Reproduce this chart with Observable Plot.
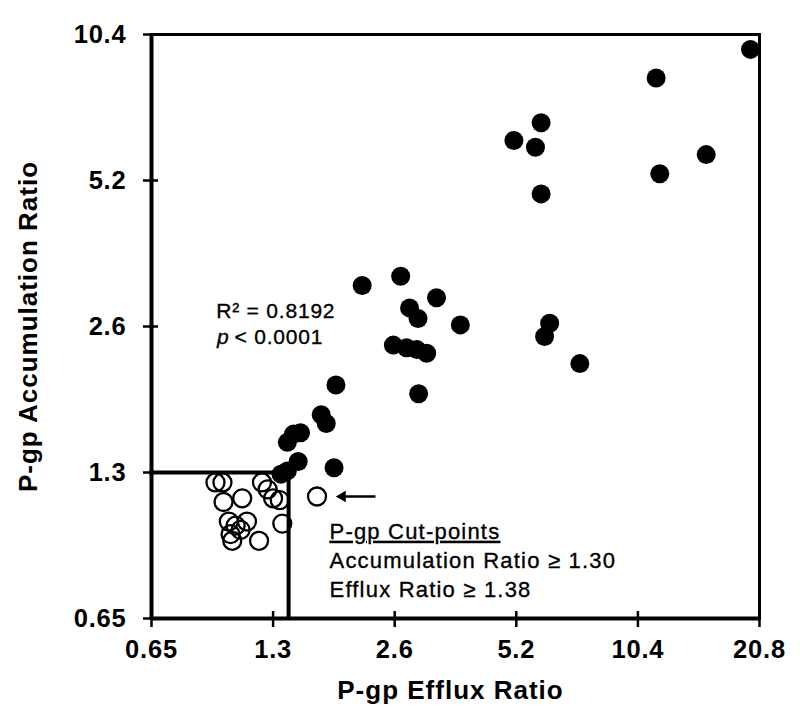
<!DOCTYPE html>
<html>
<head>
<meta charset="utf-8">
<script src="https://cdn.jsdelivr.net/npm/d3@7"></script>
<script src="https://cdn.jsdelivr.net/npm/@observablehq/plot@0.6"></script>
<style>
  html, body { margin: 0; padding: 0; background: #fff; }
  #chart svg { display: block; }
</style>
</head>
<body>
<div id="chart"></div>
<script>
// Axis ticks
const xTickValues = [0.65, 1.3, 2.6, 5.2, 10.4, 20.8];
const xTickLabels = ["0.65", "1.3", "2.6", "5.2", "10.4", "20.8"];
const yTickValues = [0.65, 1.3, 2.6, 5.2, 10.4];
const yTickLabels = ["0.65", "1.3", "2.6", "5.2", "10.4"];

// P-gp substrates (filled circles)
const substrateEfflux = [19.76, 11.54, 15.35, 11.78, 5.99, 5.13, 5.80, 5.99, 6.29, 6.11, 7.47,
  2.16, 2.69, 3.30, 2.83, 2.97, 3.78, 2.58, 2.78, 2.95, 3.12, 1.86, 2.98, 1.71, 1.76, 1.84,
  1.52, 1.46, 1.41, 1.50, 1.41, 1.36];
const substrateAccum = [9.69, 8.46, 5.88, 5.37, 6.84, 6.29, 6.09, 4.88, 2.64, 2.48, 2.18,
  3.16, 3.30, 2.98, 2.84, 2.70, 2.62, 2.38, 2.35, 2.33, 2.29, 1.97, 1.89, 1.71, 1.64, 1.33,
  1.57, 1.56, 1.50, 1.37, 1.31, 1.29];

// Non-substrates (open circles)
const nonSubstrateEfflux = [0.936, 0.974, 0.98, 1.09, 1.22, 1.26, 1.30, 1.35, 1.37, 1.01, 1.05,
  1.12, 1.08, 1.02, 1.03, 1.20, 1.67];
const nonSubstrateAccum = [1.24, 1.24, 1.13, 1.15, 1.24, 1.20, 1.15, 1.14, 1.02, 1.03, 1.01,
  1.03, 0.99, 0.97, 0.94, 0.94, 1.16];

// Cut-point box (as drawn)
const cutAccumulation = 1.30;
const cutEffluxLine = 1.42;

// Annotation texts
const statText = ["R² = 0.8192", "p", "< 0.0001"];
const cutTexts = ["P-gp Cut-points", "Accumulation Ratio ≥ 1.30", "Efflux Ratio ≥ 1.38"];
const axisTitles = ["P-gp Efflux Ratio", "P-gp Accumulation Ratio"];

// Arrow pointing at the flagged open circle (last non-substrate)
const arrowStartX = 2.33;
const arrowTipX = 1.93;

const filled = substrateEfflux.map((x, i) => ({x, y: substrateAccum[i]}));
const open = nonSubstrateEfflux.map((x, i) => ({x, y: nonSubstrateAccum[i]}));
const flagged = open[open.length - 1];

const x0 = xTickValues[0], y0 = yTickValues[0];
const noteStyle = {fill: "#000", stroke: "#000", strokeWidth: 0.35};

const chart = Plot.plot({
  width: 800,
  height: 723,
  marginLeft: 151,
  marginRight: 41,
  marginTop: 34,
  marginBottom: 105,
  x: {type: "log", base: 2, domain: [x0, xTickValues[xTickValues.length - 1]], axis: null},
  y: {type: "log", base: 2, domain: [y0, yTickValues[yTickValues.length - 1]], axis: null},
  style: {fontFamily: "'Liberation Sans', Arial, sans-serif", color: "#000", background: "#fff"},
  marks: [
    Plot.axisX(xTickValues, {
      tickSize: 0, tickPadding: 21, label: null,
      tickFormat: d => xTickLabels[xTickValues.indexOf(d)],
      fontSize: 25.5, fontWeight: "bold"
    }),
    Plot.axisY(yTickValues, {
      tickSize: 0, tickPadding: 25, label: null,
      tickFormat: d => yTickLabels[yTickValues.indexOf(d)],
      fontSize: 25.5, fontWeight: "bold"
    }),
    Plot.frame({stroke: "#000", strokeWidth: 3}),
    Plot.ruleX([x0], {stroke: "#000", strokeWidth: 4}),
    Plot.ruleY([y0], {stroke: "#000", strokeWidth: 4}),
    Plot.ruleX(xTickValues, {y1: y0, y2: y0, insetTop: -7, insetBottom: -9, stroke: "#000", strokeWidth: 2.5}),
    Plot.ruleY(yTickValues, {x1: x0, x2: x0, insetLeft: -8, insetRight: -7, stroke: "#000", strokeWidth: 2.5}),
    Plot.dot(open, {x: "x", y: "y", r: 9, stroke: "#000", strokeWidth: 2.3, fill: "none"}),
    Plot.ruleY([cutAccumulation], {x1: x0, x2: cutEffluxLine, stroke: "#000", strokeWidth: 4, strokeLinecap: "square"}),
    Plot.ruleX([cutEffluxLine], {y1: y0, y2: cutAccumulation, stroke: "#000", strokeWidth: 4, strokeLinecap: "square"}),
    Plot.dot(filled, {x: "x", y: "y", r: 9.5, fill: "#000"}),
    // arrow
    Plot.link([flagged], {x1: arrowStartX, x2: arrowTipX, y1: "y", y2: "y", stroke: "#000", strokeWidth: 2.5}),
    Plot.dot([flagged], {x: arrowTipX, y: "y", symbol: "triangle", rotate: -90, r: 4.3, fill: "#000", stroke: "none"}),
    // stats
    Plot.text([statText[0]], {x: 1.32, y: 2.80, text: d => d, fontSize: 21, ...noteStyle}),
    Plot.text([statText[1]], {x: 1.014, y: 2.47, text: d => d, fontSize: 21, fontStyle: "italic", textAnchor: "end", ...noteStyle}),
    Plot.text([statText[2]], {x: 1.043, y: 2.47, text: d => d, fontSize: 21, textAnchor: "start", ...noteStyle}),
    // cut-point notes
    Plot.text(cutTexts, {x: 1.793, y: [0.981, 0.855, 0.745], text: d => d, fontSize: 22, textAnchor: "start", ...noteStyle}),
    // axis titles
    Plot.text([axisTitles[0]], {frameAnchor: "bottom", dy: 80, dx: -5, text: d => d, fontSize: 26, fontWeight: "bold", fill: "#000"}),
    Plot.text([axisTitles[1]], {frameAnchor: "left", textAnchor: "middle", dx: -123, rotate: -90, text: d => d, fontSize: 26, fontWeight: "bold", fill: "#000"})
  ]
});

// Typographic touches: letter spacing and underline
const svg = d3.select(chart);
svg.selectAll("text").each(function () {
  const t = this.textContent;
  const el = d3.select(this);
  if (cutTexts.includes(t)) {
    el.style("letter-spacing", "1.2px");
    if (t === cutTexts[0]) el.style("text-decoration", "underline");
  } else if (axisTitles.includes(t)) {
    el.style("letter-spacing", "1px");
  } else {
    el.style("letter-spacing", "0.8px");
  }
});
document.getElementById("chart").appendChild(chart);
</script>
</body>
</html>
